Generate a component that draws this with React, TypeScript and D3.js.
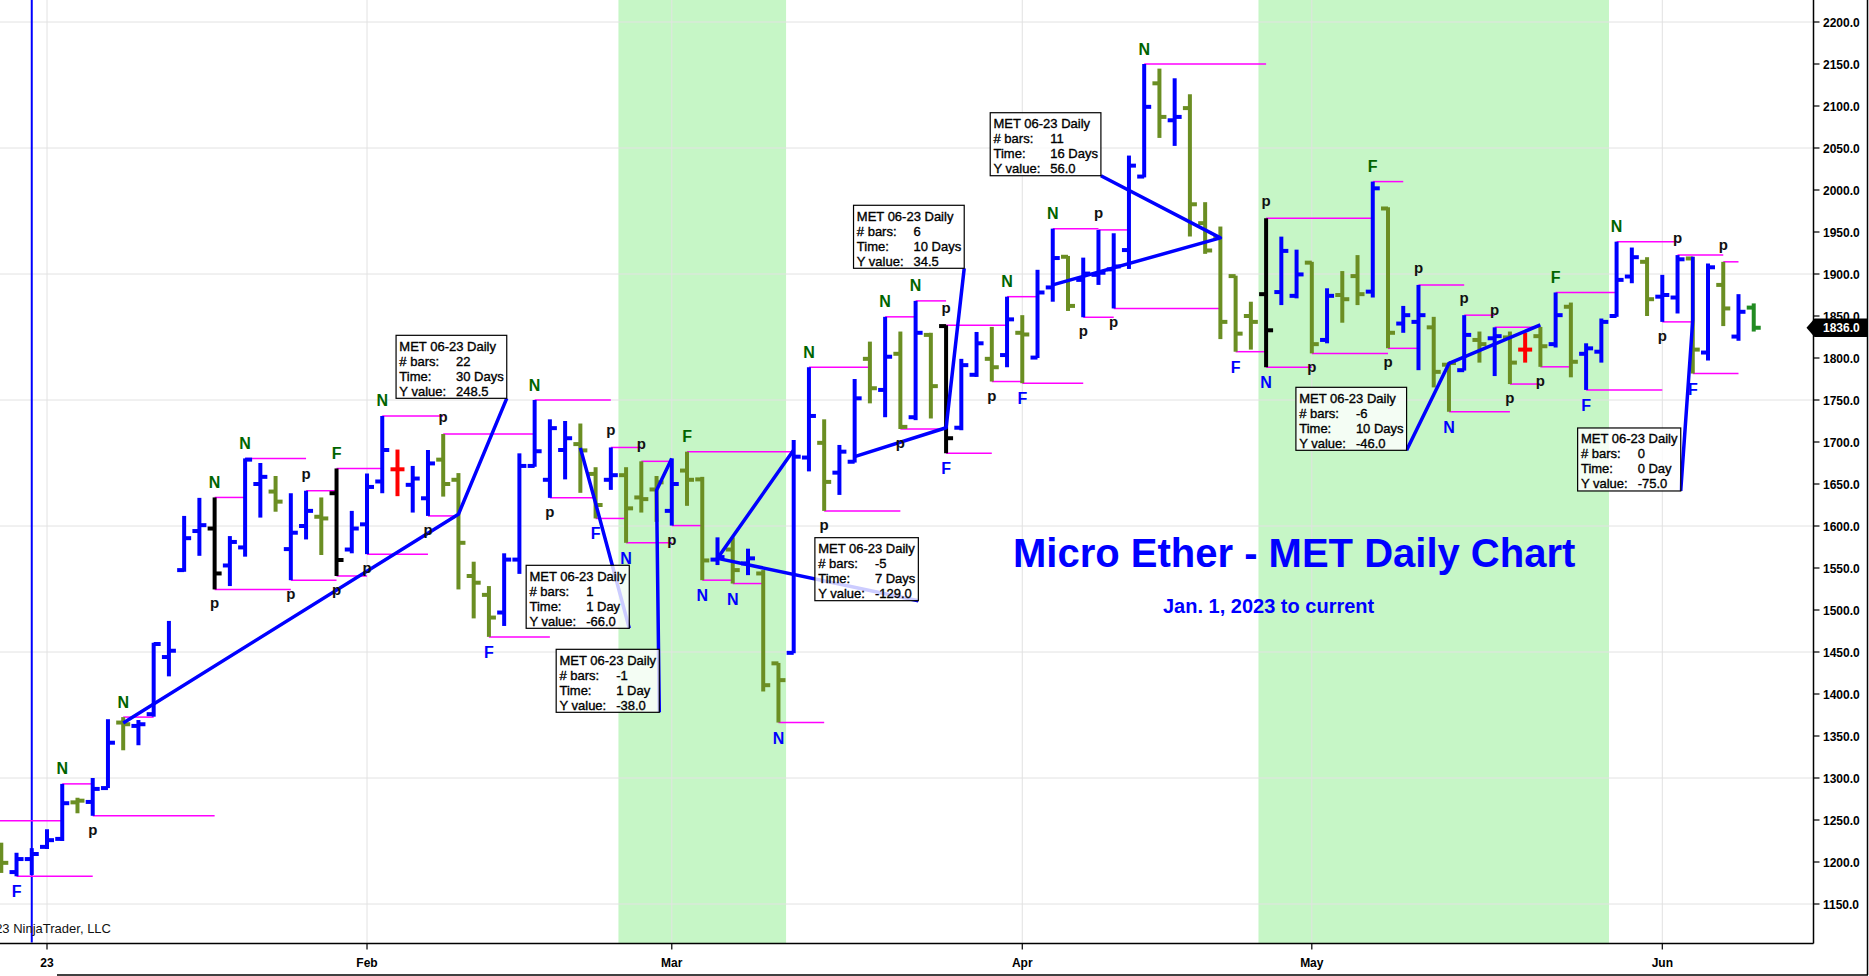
import React, { useMemo } from "react";
import * as d3 from "d3";

const WIDTH = 1869;
const HEIGHT = 976;
const FONT = "'Liberation Sans', Arial, Helvetica, sans-serif";

// MET 06-23 daily bars, index -3 (Dec 28 2022) .. 112 (Jun 9 2023)
const FIRST_BAR = -3;

const opens = [
  1215, 1188, 1203.5, 1218, 1227.5, 1271, 1271.5, 1288, 1366, 1362,
  1376, 1444, 1547.5, 1594, 1597, 1553, 1574.5, 1650, 1641, 1572.5,
  1600, 1611, 1639, 1572, 1602, 1653, 1667.5, 1649, 1633, 1679,
  1655, 1540.5, 1518, 1497, 1560, 1671.5, 1655, 1690.5, 1697.5, 1662,
  1655, 1660.5, 1634, 1643.5, 1618, 1666, 1655.5, 1560, 1572, 1555.5,
  1543.5, 1436.5, 1449, 1681.5, 1699, 1663.5, 1676.5, 1799, 1762, 1805,
  1729.5, 1827.5, 1838, 1717, 1780, 1799, 1803.5, 1830, 1800.5, 1884,
  1920.5, 1893, 1899, 1905.5, 1928.5, 2016, 2127, 2083, 2097.5, 1960.5,
  1944, 1897.5, 1850, 1876, 1878.5, 1874, 1913.5, 1821.5, 1875, 1897.5,
  1879, 1978, 1841, 1843, 1836.5, 1792, 1785.5, 1821.5, 1823.5, 1824.5,
  1810, 1826, 1816.5, 1861, 1805, 1807.5, 1850, 1897, 1914.5, 1873,
  1872, 1918.5, 1806.5, 1887, 1825.5, 1860,
];

const highs = [
  1223, 1211, 1216.5, 1239, 1293, 1276.5, 1300, 1370, 1372.5, 1369,
  1461, 1487, 1612, 1633.5, 1634, 1588, 1680.5, 1675, 1659.5, 1639,
  1642, 1634, 1668.5, 1618, 1662.5, 1731, 1691, 1671.5, 1690.5, 1709.5,
  1663, 1557.5, 1528.5, 1567.5, 1686.5, 1750, 1727, 1725, 1722, 1670,
  1693.5, 1670, 1677, 1659.5, 1680.5, 1688.5, 1658.5, 1586.5, 1586.5, 1573,
  1547.5, 1437, 1702.5, 1789, 1727, 1696.5, 1775, 1819.5, 1849, 1831.5,
  1868, 1830, 1839, 1799, 1831, 1837, 1873, 1851, 1905, 1954,
  1921.5, 1919.5, 1952.5, 1948.5, 2041, 2150, 2144.5, 2133, 2114, 1985.5,
  1956.5, 1898, 1867, 1966.5, 1944.5, 1929, 1914.5, 1883, 1903.5, 1922.5,
  2010, 1979.5, 1862, 1887, 1849, 1794.5, 1851, 1831.5, 1836.5, 1831.5,
  1830, 1837, 1878, 1866, 1817.5, 1847, 1938.5, 1931.5, 1920, 1899,
  1922.5, 1920.5, 1912.5, 1914.5, 1876, 1865,
];

const lows = [
  1187, 1183, 1184.5, 1215.5, 1225, 1258, 1255, 1288, 1333, 1339,
  1373, 1421, 1545.5, 1564.5, 1524.5, 1528.5, 1563.5, 1610, 1617, 1535.5,
  1584, 1565.5, 1540.5, 1567.5, 1566.5, 1639, 1635.5, 1616, 1612, 1635,
  1524.5, 1490, 1468, 1481, 1543, 1670.5, 1633.5, 1655.5, 1639.5, 1609,
  1643, 1580, 1616, 1605, 1600.5, 1624, 1535.5, 1553.5, 1531.5, 1541.5,
  1403, 1366, 1448.5, 1665, 1618, 1637, 1675.5, 1746, 1729.5, 1715.5,
  1726, 1728, 1686.5, 1714, 1777.5, 1772, 1789, 1770, 1800, 1867,
  1856, 1848.5, 1887, 1859, 1906, 2015, 2062, 2052.5, 1944.5, 1924,
  1822.5, 1807.5, 1810, 1789, 1863, 1871, 1805.5, 1817.5, 1842, 1863,
  1872, 1811.5, 1830, 1785.5, 1765, 1736, 1785, 1794.5, 1778.5, 1769,
  1794.5, 1789.5, 1812.5, 1777, 1762, 1794.5, 1849, 1889, 1850, 1843,
  1853, 1781.5, 1797, 1838, 1820.5, 1831.5,
];

const closes = [
  1199, 1203.5, 1209.5, 1226, 1270, 1273, 1287, 1342, 1364, 1364,
  1459.5, 1451.5, 1585.5, 1601, 1543.5, 1581, 1679, 1658.5, 1629, 1592,
  1618, 1609, 1559.5, 1597, 1646.5, 1690.5, 1667.5, 1656.5, 1674.5, 1650,
  1580, 1532.5, 1491, 1560, 1671.5, 1689, 1716.5, 1704.5, 1690, 1625,
  1660.5, 1621, 1632, 1652, 1650, 1655, 1559, 1563, 1547.5, 1561.5,
  1410.5, 1416.5, 1682.5, 1731, 1652.5, 1688.5, 1752, 1764, 1801.5, 1718,
  1830, 1766.5, 1704.5, 1791.5, 1817.5, 1789, 1846, 1828, 1878, 1919,
  1862, 1900.5, 1901.5, 1909, 2029, 2099, 2087, 2087, 1983, 1928,
  1843, 1829, 1843, 1833, 1927.5, 1899.5, 1816.5, 1874, 1870, 1876,
  2002, 1830, 1851, 1851, 1783.5, 1794, 1827.5, 1816.5, 1826, 1794.5,
  1810, 1814, 1851, 1795.5, 1811.5, 1843, 1893, 1920, 1870, 1875,
  1917.5, 1810, 1908, 1859, 1855, 1836,
];

// bar colour codes: b blue, o olive, k black, r red, g green (current bar)
const barColors = (
  "obbbbobbob" + "bbbbkbbbob" + "bokbbbrbbo" + "ooobbbbboo" +
  "boooboobob" + "oobbobbobo" + "bokbbobobb" + "obbbbboboo" +
  "oookbboboo" + "bobboobobo" + "robobbbbob" + "bobobg"
).split("");

const COLORS: Record<string, string> = {
  b: "#0000ff",
  o: "#6b8e23",
  k: "#000000",
  r: "#ff0000",
  g: "#228b22",
};

// x axis
const monthLabels = ["23", "Feb", "Mar", "Apr", "May", "Jun"];
const monthBars = [0, 21, 41, 64, 83, 106];

// shaded periods (bar index ranges)
const shadeStart = [37.5, 79.5];
const shadeEnd = [48.5, 102.5];

// year-end marker
const markerBar = -1;

// swing lines: [from bar, to bar, H = from high / L = from low]
const swings: [number, number, string][] = [
  [-2, 3, "L"], [1, 3, "H"], [3, 11, "L"], [5, 7, "H"], [11, 13, "H"],
  [11, 16, "L"], [13, 17, "H"], [16, 19, "L"], [17, 19, "H"], [19, 22, "H"],
  [19, 21, "L"], [21, 25, "L"], [22, 26, "H"], [25, 27, "L"], [26, 32, "H"],
  [29, 33, "L"], [32, 37, "H"], [33, 36, "L"], [36, 38, "L"], [37, 39, "H"],
  [38, 41, "L"], [39, 41, "H"], [41, 43, "L"], [42, 49, "H"], [43, 45, "L"],
  [45, 47, "L"], [48, 51, "L"], [50, 54, "H"], [51, 56, "L"], [55, 57, "H"],
  [57, 59, "H"], [56, 59, "L"], [59, 63, "H"], [59, 62, "L"], [62, 64, "L"],
  [63, 65, "H"], [64, 68, "L"], [66, 69, "H"], [69, 71, "H"], [68, 70, "L"],
  [70, 77, "L"], [72, 80, "H"], [78, 80, "L"], [80, 87, "H"], [80, 83, "L"],
  [83, 88, "L"], [87, 89, "H"], [88, 90, "L"], [90, 93, "H"], [92, 96, "L"],
  [93, 95, "H"], [95, 98, "H"], [96, 98, "L"], [98, 100, "L"], [99, 103, "H"],
  [101, 106, "L"], [103, 107, "H"], [107, 110, "H"], [106, 108, "L"], [110, 111, "H"],
  [108, 111, "L"],
];
// swing line carried in from before the visible range
const priorSwingPrice = 1249;
const priorSwingTo = 1;

// swing labels: [bar, text, A = above high / B = below low]
const swingLabels: [number, string, string][] = [
  [-2, "F", "B"], [3, "p", "B"], [11, "p", "B"], [16, "p", "B"], [19, "p", "B"],
  [21, "p", "B"], [25, "p", "B"], [29, "F", "B"], [33, "p", "B"], [36, "F", "B"],
  [38, "N", "B"], [41, "p", "B"], [43, "N", "B"], [45, "N", "B"], [48, "N", "B"],
  [51, "p", "B"], [56, "p", "B"], [59, "F", "B"], [62, "p", "B"], [64, "F", "B"],
  [68, "p", "B"], [70, "p", "B"], [78, "F", "B"], [80, "N", "B"], [83, "p", "B"],
  [88, "p", "B"], [92, "N", "B"], [96, "p", "B"], [98, "p", "B"], [101, "F", "B"],
  [106, "p", "B"], [108, "F", "B"],
  [1, "N", "A"], [5, "N", "A"], [11, "N", "A"], [13, "N", "A"], [17, "p", "A"],
  [19, "F", "A"], [22, "N", "A"], [26, "p", "A"], [32, "N", "A"], [37, "p", "A"],
  [39, "p", "A"], [42, "F", "A"], [50, "N", "A"], [55, "N", "A"], [57, "N", "A"],
  [59, "p", "A"], [63, "N", "A"], [66, "N", "A"], [69, "p", "A"], [72, "N", "A"],
  [80, "p", "A"], [87, "F", "A"], [90, "p", "A"], [93, "p", "A"], [95, "p", "A"],
  [99, "F", "A"], [103, "N", "A"], [107, "p", "A"], [110, "p", "A"],
];

// ruler drawings
const rulerFrom = [5, 35, 41, 49, 53, 66, 98, 108];
const rulerFromPrice = [1365.5, 1693, 1680.5, 1690.5, 1682.5, 1887, 1839.5, 1920.5];
const rulerTo = [27, 36, 40, 44, 59, 77, 92, 108];
const rulerYValue = [248.5, -66, -38, -129, 34.5, 56, -46, -75];
const rulerDays = [30, 1, 1, 7, 10, 16, 10, 0];
// text box bottom-right anchor
const rulerBoxBar = [30.17, 38.21, 40.18, 57.18, 60.19, 69.16, 89.22, 107.21];
const rulerBoxPrice = [1752, 1478.2, 1378.2, 1511.1, 1906.8, 2017, 1690.1, 1641.7];

const lastPrice = 1836;

export default function App() {
  const x = d3.scaleLinear().domain([0, 106]).range([47, 1662.3]);
  const y = d3.scaleLinear().domain([1150, 2200]).range([904, 22]);

  const plotRight = 1813.5;
  const plotBottom = 943.5;

  const yTicks = y.ticks(21);
  const gridTicks = yTicks.filter((v) => (v - 1150) % 150 === 0);

  const bars = opens.map((o, k) => ({
    i: FIRST_BAR + k,
    o,
    h: highs[k],
    l: lows[k],
    c: closes[k],
    color: COLORS[barColors[k]],
  }));
  const barAt = (i: number) => bars[i - FIRST_BAR];

  const measure = useMemo(() => {
    const ctx = document.createElement("canvas").getContext("2d");
    return (s: string) => {
      if (!ctx) return s.length * 7;
      ctx.font = `13px ${FONT}`;
      return ctx.measureText(s).width;
    };
  }, []);

  const rulers = rulerFrom.map((from, k) => {
    const to = rulerTo[k];
    const p0 = rulerFromPrice[k];
    const p1 = p0 + rulerYValue[k];
    const d = rulerDays[k];
    const values = [
      `${to - from}`,
      `${d} ${d > 1 ? "Days" : "Day"}`,
      rulerYValue[k].toFixed(1),
    ];
    const w =
      Math.max(measure("MET 06-23 Daily") + 3.3, 60 + d3.max(values, measure)!) + 3;
    const bx = x(rulerBoxBar[k]);
    const by = y(rulerBoxPrice[k]);
    return {
      pts: [
        [x(from), y(p0)],
        [x(to), y(p1)],
        [bx, by],
      ],
      left: bx - w,
      top: by - 63,
      w,
      values,
    };
  });

  const lastY = y(lastPrice);

  return (
    <div style={{ position: "absolute", left: 0, top: 0 }}>
      <svg width={WIDTH} height={HEIGHT} style={{ display: "block", fontFamily: FONT }}>
        <rect width={WIDTH} height={HEIGHT} fill="#ffffff" />

        {/* shaded periods */}
        {shadeStart.map((s, k) => (
          <rect
            key={`sh${k}`}
            x={x(s)}
            y={0}
            width={x(shadeEnd[k]) - x(s)}
            height={plotBottom}
            fill="#c6f6c6"
          />
        ))}

        {/* grid */}
        {gridTicks.map((v) => (
          <line key={`gy${v}`} x1={0} x2={plotRight} y1={y(v)} y2={y(v)} stroke="#e2e2e2" strokeWidth={1} />
        ))}
        {monthBars.map((b) => (
          <line key={`gx${b}`} x1={x(b)} x2={x(b)} y1={0} y2={plotBottom} stroke="#e2e2e2" strokeWidth={1} />
        ))}

        {/* vertical marker */}
        <line x1={x(markerBar)} x2={x(markerBar)} y1={0} y2={plotBottom - 1} stroke="#0000ff" strokeWidth={2} />

        {/* swing lines */}
        <line
          x1={0}
          x2={x(priorSwingTo)}
          y1={y(priorSwingPrice)}
          y2={y(priorSwingPrice)}
          stroke="#ff00ff"
          strokeWidth={1.5}
        />
        {swings.map(([from, to, side], k) => {
          const b = barAt(from);
          const py = y(side === "H" ? b.h : b.l);
          return (
            <line key={`sw${k}`} x1={x(from)} x2={x(to)} y1={py} y2={py} stroke="#ff00ff" strokeWidth={1.5} />
          );
        })}

        {/* OHLC bars */}
        {bars.map((b) => {
          const cx = x(b.i);
          return (
            <g key={`b${b.i}`} stroke={b.color} strokeWidth={4}>
              <line x1={cx} x2={cx} y1={y(b.h)} y2={y(b.l)} />
              <line x1={cx - 7} x2={cx} y1={y(b.o)} y2={y(b.o)} />
              <line x1={cx} x2={cx + 7} y1={y(b.c)} y2={y(b.c)} />
            </g>
          );
        })}

        {/* ruler lines */}
        {rulers.map((r, k) => (
          <polyline
            key={`rl${k}`}
            points={r.pts.map((p) => p.join(",")).join(" ")}
            fill="none"
            stroke="#0000ff"
            strokeWidth={3.5}
            strokeLinejoin="round"
          />
        ))}

        {/* ruler text boxes */}
        {rulers.map((r, k) => (
          <g key={`rb${k}`}>
            <rect
              x={r.left}
              y={r.top}
              width={r.w}
              height={63}
              fill="#ffffff"
              fillOpacity={0.8}
              stroke="#000"
              strokeWidth={1.2}
            />
            <g fontSize={13} fill="#000" stroke="#000" strokeWidth={0.35}>
              <text x={r.left + 3.3} y={r.top + 15.5}>MET 06-23 Daily</text>
              {["# bars:", "Time:", "Y value:"].map((lab, j) => (
                <g key={lab}>
                  <text x={r.left + 3.3} y={r.top + 30.5 + 15 * j}>{lab}</text>
                  <text x={r.left + 60} y={r.top + 30.5 + 15 * j}>{r.values[j]}</text>
                </g>
              ))}
            </g>
          </g>
        ))}

        {/* swing labels */}
        {swingLabels.map(([bi, t, side], k) => {
          const b = barAt(bi);
          const isP = t === "p";
          const ty =
            side === "A" ? y(b.h) - (isP ? 12 : 9.5) : y(b.l) + (isP ? 19 : 21);
          const fill = isP ? "#111" : side === "A" ? "#006400" : "#0000ff";
          return (
            <text
              key={`lb${k}`}
              x={x(bi)}
              y={ty}
              textAnchor="middle"
              fontSize={isP ? 15 : 16}
              fontWeight="bold"
              fill={fill}
            >
              {t}
            </text>
          );
        })}

        {/* titles */}
        <text x={1013} y={567} fontSize={40} fontWeight="bold" fill="#0000ff">
          Micro Ether - MET Daily Chart
        </text>
        <text x={1163} y={613} fontSize={20} fontWeight="bold" fill="#0000ff">
          Jan. 1, 2023 to current
        </text>
        <text x={111} y={933} fontSize={13} textAnchor="end" fill="#111">
          © 2023 NinjaTrader, LLC
        </text>

        {/* axes */}
        <line x1={0} x2={plotRight} y1={plotBottom} y2={plotBottom} stroke="#000" strokeWidth={1.5} />
        <line x1={plotRight} x2={plotRight} y1={0} y2={plotBottom} stroke="#000" strokeWidth={1.5} />
        {monthBars.map((b, k) => (
          <g key={`xt${b}`}>
            <line x1={x(b)} x2={x(b)} y1={plotBottom} y2={plotBottom + 6} stroke="#000" strokeWidth={1.2} />
            <text x={x(b)} y={967} textAnchor="middle" fontSize={12} fontWeight="bold" fill="#000">
              {monthLabels[k]}
            </text>
          </g>
        ))}
        {yTicks.map((v) => (
          <g key={`yt${v}`}>
            <line x1={plotRight} x2={plotRight + 6} y1={y(v)} y2={y(v)} stroke="#000" strokeWidth={1.2} />
            <text x={plotRight + 9.5} y={y(v) + 4.5} fontSize={12} fontWeight="bold" fill="#000">
              {v.toFixed(1)}
            </text>
          </g>
        ))}

        {/* last price marker */}
        <polygon
          points={`${plotRight - 7},${lastY} ${plotRight + 1},${lastY - 9.2} ${WIDTH - 2},${lastY - 9.2} ${WIDTH - 2},${lastY + 9.2} ${plotRight + 1},${lastY + 9.2}`}
          fill="#000"
        />
        <text x={plotRight + 9.5} y={lastY + 4.5} fontSize={12} fontWeight="bold" fill="#fff">
          {lastPrice.toFixed(1)}
        </text>

        {/* outer frame */}
        <line x1={57} x2={WIDTH - 1} y1={HEIGHT - 1} y2={HEIGHT - 1} stroke="#000" strokeWidth={1.5} />
        <line x1={WIDTH - 1.5} x2={WIDTH - 1.5} y1={0} y2={HEIGHT - 1} stroke="#000" strokeWidth={1.5} />
      </svg>
    </div>
  );
}
